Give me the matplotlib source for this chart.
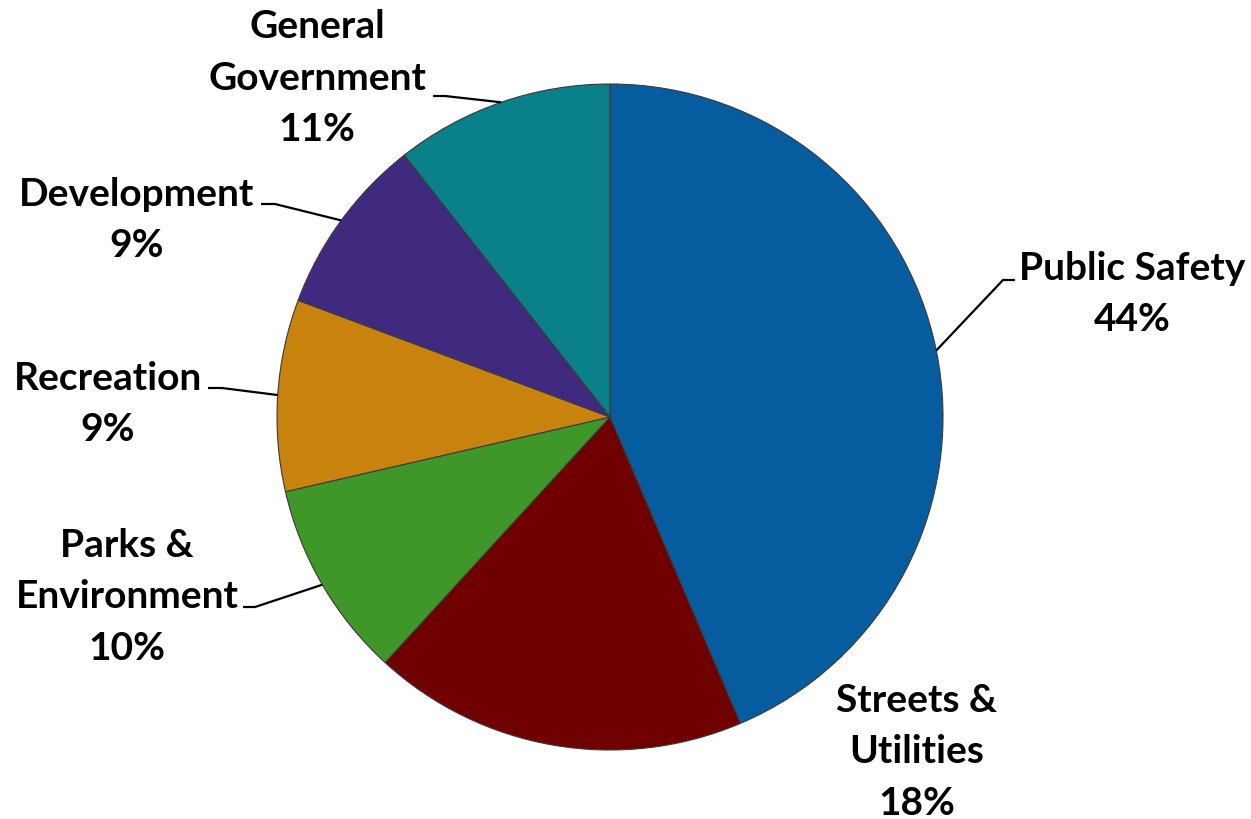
import numpy as np
import matplotlib.pyplot as plt

categories = ["Public Safety", "Streets &\nUtilities", "Parks &\nEnvironment",
              "Recreation", "Development", "General\nGovernment"]
shares = [43.6, 18.2, 9.6, 9.3, 8.7, 10.6]
pct_labels = ["44%", "18%", "10%", "9%", "9%", "11%"]
colors = ["#055DA0", "#700000", "#3F9629", "#C8830F", "#402A80", "#0A8088"]

# layout in pixel units (y up), figure is 1251 x 820
W, H = 1251, 820
cx, cy, r = 610, 402, 333
label_pos = [(1132, 526), (917, 68), (127, 223), (108, 416), (137, 600), (317, 742)]
# stub start (x, y) and stub end before diagonal, None = no leader line
stubs = [((1015, 539), (1003, 539)), None, ((243, 212), (255, 212)),
         ((208, 431), (222, 431)), ((261, 615), (275, 615)), ((433, 723), (445, 723))]

fig = plt.figure(figsize=(W / 100, H / 100), dpi=100)
ax = fig.add_axes([0, 0, 1, 1])
wedges, _ = ax.pie(shares, colors=colors, startangle=90, counterclock=False,
                   center=(cx, cy), radius=r,
                   wedgeprops=dict(edgecolor="#3a3a3a", linewidth=0.8))
ax.set_xlim(0, W)
ax.set_ylim(0, H)
ax.set_aspect("equal")
ax.axis("off")

for i, w in enumerate(wedges):
    txt = categories[i] + "\n" + pct_labels[i]
    ax.text(label_pos[i][0], label_pos[i][1], txt, ha="center", va="center",
            fontsize=28, fontweight="bold", family=["Lato", "DejaVu Sans"],
            linespacing=1.56, color="black")
    if stubs[i] is not None:
        mid = np.deg2rad((w.theta1 + w.theta2) / 2)
        ex, ey = cx + r * np.cos(mid), cy + r * np.sin(mid)
        (x0, y0), (x1, y1) = stubs[i]
        ax.plot([x0, x1, ex], [y0, y1, ey], color="black", lw=1.6,
                solid_capstyle="butt")

fig.savefig("out.png", dpi=100)
